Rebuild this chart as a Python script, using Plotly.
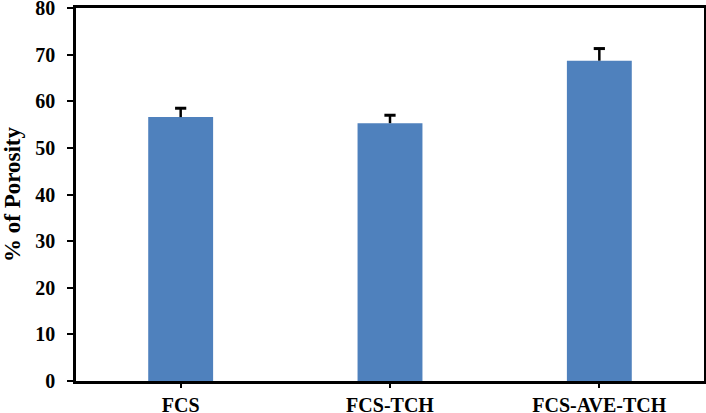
import plotly.graph_objects as go

categories = ["FCS", "FCS-TCH", "FCS-AVE-TCH"]
porosity = [56.6, 55.3, 68.7]
porosity_err = [1.9, 1.7, 2.6]
y_ticks = [0, 10, 20, 30, 40, 50, 60, 70, 80]

font_family = "Liberation Serif"

# top of each error bar (cap position)
err_top = [v + e for v, e in zip(porosity, porosity_err)]

fig = go.Figure()
fig.add_trace(go.Bar(
    x=categories,
    y=porosity,
    width=0.31,
    marker=dict(color="#4F81BD", line=dict(width=0)),
))
# upward-only error bars drawn as a "T": cap marker + stem down to the bar
fig.add_trace(go.Scatter(
    x=categories,
    y=err_top,
    mode="markers",
    marker=dict(symbol="line-ew", size=8, line=dict(color="black", width=3)),
    error_y=dict(
        type="data",
        array=[0, 0, 0],
        arrayminus=porosity_err,
        symmetric=False,
        color="black",
        thickness=2.5,
        width=0,
    ),
    hoverinfo="skip",
))

fig.update_layout(
    width=706,
    height=413,
    paper_bgcolor="white",
    plot_bgcolor="white",
    margin=dict(l=76, r=2, t=8, b=32),
    showlegend=False,
    font=dict(family=font_family, color="black"),
    xaxis=dict(
        tickvals=categories,
        ticktext=["<b>%s</b>" % c for c in categories],
        showline=True,
        linecolor="black",
        linewidth=2.5,
        mirror=True,
        ticks="outside",
        ticklen=4,
        tickwidth=2,
        tickcolor="black",
        ticklabelstandoff=0,
        ticklabeloverflow="allow",
        tickfont=dict(size=20, family=font_family),
        showgrid=False,
        automargin=False,
    ),
    yaxis=dict(
        range=[0, 80],
        tickvals=y_ticks,
        ticktext=["<b>%d</b>" % t for t in y_ticks],
        showline=True,
        linecolor="black",
        linewidth=2.5,
        mirror=True,
        ticks="outside",
        ticklen=6,
        tickwidth=2,
        tickcolor="black",
        ticklabelstandoff=8,
        ticklabeloverflow="allow",
        tickfont=dict(size=20, family=font_family),
        showgrid=False,
        zeroline=False,
        automargin=False,
        title=dict(
            text="<b>% of Porosity</b>",
            font=dict(size=23, family=font_family),
            standoff=12,
        ),
    ),
)

fig.write_html(
    "out.html",
    config={"displayModeBar": False},
    post_script="document.body.style.margin='0';",
)
